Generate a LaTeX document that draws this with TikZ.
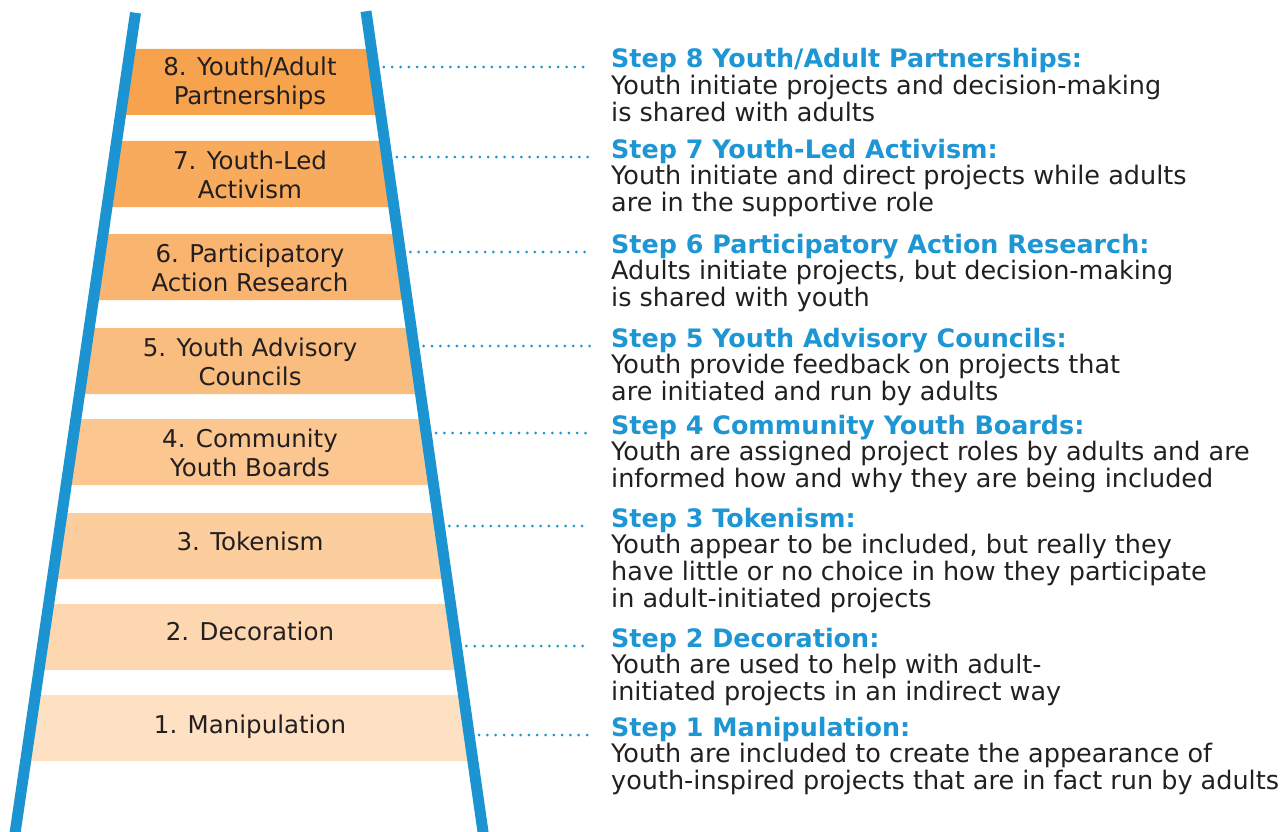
\documentclass[tikz,border=0pt]{standalone}
\usepackage{fontspec}
\setmainfont{DejaVu Sans}
\definecolor{railblue}{RGB}{28,148,210}
\definecolor{headblue}{RGB}{30,150,212}
\definecolor{txtdark}{RGB}{35,31,32}
\definecolor{r8}{RGB}{247,162,76}
\definecolor{r7}{RGB}{248,171,93}
\definecolor{r6}{RGB}{249,180,111}
\definecolor{r5}{RGB}{250,189,128}
\definecolor{r4}{RGB}{251,198,144}
\definecolor{r3}{RGB}{252,206,157}
\definecolor{r2}{RGB}{253,215,175}
\definecolor{r1}{RGB}{254,224,194}
\tikzset{
  rail/.style={draw=railblue, line width=11pt, line cap=butt},
  rungtext/.style={text=txtdark, align=center, inner sep=0pt, font=\fontsize{24.5}{29}\selectfont},
  headtext/.style={text=headblue, anchor=base west, inner sep=0pt, font=\fontsize{25.4}{27}\selectfont\bfseries},
  bodytext/.style={text=txtdark, anchor=base west, align=left, inner sep=0pt, font=\fontsize{25.5}{27}\selectfont},
  dotline/.style={draw=railblue, line width=3pt, line cap=round, dash pattern=on 0pt off 8.3pt}
}
\begin{document}
\begin{tikzpicture}[x=1pt,y=-1pt]
\useasboundingbox (0,0) rectangle (1282,832);
% rungs
\foreach \k/\t/\cy/\lab in {8/49/83/{8. Youth/Adult\\Partnerships}, 7/141/175/{7. Youth-Led\\Activism}, 6/234/267.5/{6. Participatory\\Action Research}, 5/328/362/{5. Youth Advisory\\Councils}, 4/419/453/{4. Community\\Youth Boards}, 3/513/541.5/{3. Tokenism}, 2/604/631.5/{2. Decoration}, 1/695/727/{1. Manipulation}}{
  \pgfmathsetmacro\bb{\t+66}
  \pgfmathsetmacro\lt{135.5-0.147*(\t-12.8)}
  \pgfmathsetmacro\lb{135.5-0.147*(\bb-12.8)}
  \pgfmathsetmacro\rt{366+0.1425*(\t-11.3)}
  \pgfmathsetmacro\rb{366+0.1425*(\bb-11.3)}
  \fill[r\k] (\lt,\t) -- (\rt,\t) -- (\rb,\bb) -- (\lb,\bb) -- cycle;
  \node[rungtext] (rung\k) at (250,\cy) {\lab};
}
% rails
\coordinate (lt) at (135.5,12.8);
\coordinate (lb) at (14.9,834);
\coordinate (rt) at (366,11.3);
\coordinate (rb) at (483.3,834);
\draw[rail] (lt) -- (lb);
\draw[rail] (rt) -- (rb);
% right texts and dotted connectors (body node's base = baseline of its last line)
\foreach \k/\y/\n/\head/\body in {
  8/68/2/{Step 8 Youth/Adult Partnerships:}/{Youth initiate projects and decision-making\\is shared with adults},
  7/158/2/{Step 7 Youth-Led Activism:}/{Youth initiate and direct projects while adults\\are in the supportive role},
  6/253/2/{Step 6 Participatory Action Research:}/{Adults initiate projects, but decision-making\\is shared with youth},
  5/347/2/{Step 5 Youth Advisory Councils:}/{Youth provide feedback on projects that\\are initiated and run by adults},
  4/434/2/{Step 4 Community Youth Boards:}/{Youth are assigned project roles by adults and are\\informed how and why they are being included},
  3/527/3/{Step 3 Tokenism:}/{Youth appear to be included, but really they\\have little or no choice in how they participate\\in adult-initiated projects},
  2/647/2/{Step 2 Decoration:}/{Youth are used to help with adult-\\initiated projects in an indirect way},
  1/736/2/{Step 1 Manipulation:}/{Youth are included to create the appearance of\\youth-inspired projects that are in fact run by adults}}{
  \node[headtext] (head\k) at (611,\y) {\head};
  \pgfmathsetmacro\yb{\y+26.8*\n}
  \node[bodytext] (body\k) at (611,\yb) {\body};
  \pgfmathsetmacro\dy{\y-1}
  \pgfmathsetmacro\dx{366+0.1425*(\dy-11.3)+10}
  \coordinate (ds\k) at (\dx,\dy);
  \coordinate (de\k) at (590,\dy);
  \draw[dotline] (ds\k) -- (de\k);
}
\end{tikzpicture}
\end{document}
